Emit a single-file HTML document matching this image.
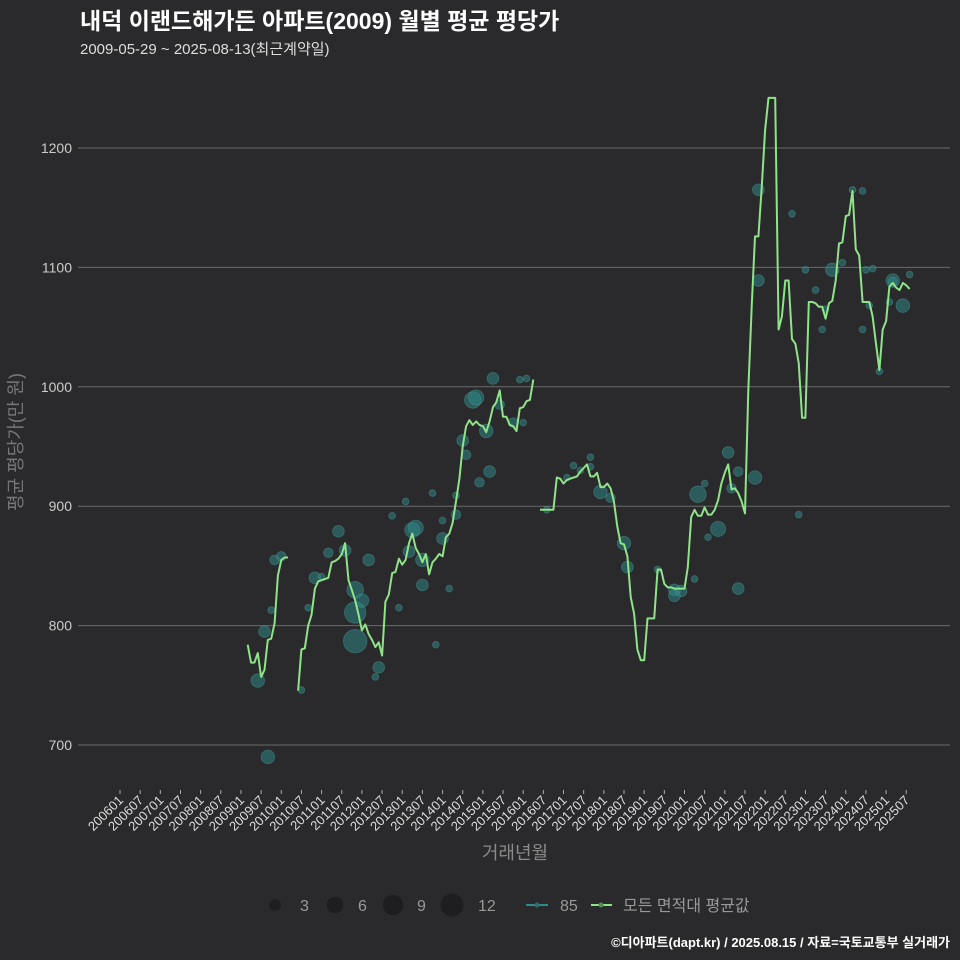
<!DOCTYPE html>
<html><head><meta charset="utf-8"><style>
body{margin:0;background:#2a2a2c;}
svg{display:block;font-family:"Liberation Sans","Noto Sans CJK KR",sans-serif;}
</style></head><body>
<svg id="chart" width="960" height="960" viewBox="0 0 960 960">
<rect x="0" y="0" width="960" height="960" fill="#2a2a2c"/>
<text x="80" y="29" font-size="23" font-weight="bold" fill="#ffffff">내덕 이랜드해가든 아파트(2009) 월별 평균 평당가</text>
<text x="80" y="54" font-size="15" fill="#dddddd">2009-05-29 ~ 2025-08-13(최근계약일)</text>
<g id="grid"></g>
<g id="bubbles"></g>
<g id="lines"></g>
<g id="xaxis"></g>
<text x="515" y="859" font-size="18" fill="#8a8a8a" text-anchor="middle">거래년월</text>
<text transform="translate(22,442) rotate(-90)" font-size="18" fill="#777777" text-anchor="middle">평균 평당가(만 원)</text>
<g>
<circle cx="275" cy="905" r="5.9" fill="#1e1e20"/>
<text x="300" y="911" font-size="16" fill="#999">3</text>
<circle cx="335" cy="905" r="8.3" fill="#1e1e20"/>
<text x="358" y="911" font-size="16" fill="#999">6</text>
<circle cx="393" cy="905" r="10.2" fill="#1e1e20"/>
<text x="417" y="911" font-size="16" fill="#999">9</text>
<circle cx="452" cy="905" r="11.5" fill="#1e1e20"/>
<text x="478" y="911" font-size="16" fill="#999">12</text>
<line x1="526" y1="905" x2="548" y2="905" stroke="#2a8c8c" stroke-width="2"/>
<circle cx="537" cy="905" r="2.5" fill="#2f6f6a"/>
<text x="560" y="911" font-size="16" fill="#999">85</text>
<line x1="591" y1="905" x2="612" y2="905" stroke="#8fe388" stroke-width="2"/>
<circle cx="601" cy="905" r="2.5" fill="#4f8f55"/>
<text x="623" y="911" font-size="16" fill="#999">모든 면적대 평균값</text>
</g>
<text x="950" y="947" font-size="13" font-weight="bold" fill="#ffffff" text-anchor="end">©디아파트(dapt.kr) / 2025.08.15 / 자료=국토교통부 실거래가</text>
</svg>
<script>
const yTicks=[700,800,900,1000,1100,1200];
const lineStartMonth=38;
const seg1=[784,769,769,777,757,763,788,789,802,842,855,857,857];
const seg2=[745.5,780,781,800,809,831,837,838,839,840,853,854,856,860,869,838,830,821,809,796,801,793,788,782,786,775,820,826,844,845,856,851,855,869,877,865,860,853,860,843,853,856,860,858,874,877,886,904,923,950,967,972,968,971,968,967,962,971,983,987,997,975,975,968,967,963,982,983,988,989,1006];
const seg3=[897,897,897,897,897,924,923,919,922,923,924,925,929,932,935,925,925,928,916,916,919,915,904,883,869,868,858,824,810,780,771,771,806,806,806,847,847,835,832,832,831,831,831,831,849,891,897,892,892,899,893,893,897,905,919,928,935,914,915,911,904,894,997,1067,1126,1126,1168,1215,1242,1242,1242,1048,1059,1089,1089,1040,1036,1020,974,974,1071,1071,1070,1067,1067,1057,1070,1072,1089,1120,1121,1143,1144,1164,1115,1110,1071,1071,1071,1059,1036,1014,1048,1055,1084,1087,1083,1081,1087,1085,1082];
const bubbleMonths=[41,43,44,45,46,48,54,56,58,60,62,65,67,70,70,70,72,74,77,76,81,85,83,86,87,88,90,90,94,93,96,96,98,100,100,102,103,105,106,107,109,110,111,113,117,119,121,120,127,133,135,137,140,140,143,146,150,151,160,165,167,165,171,172,174,175,178,181,184,184,182,190,189,190,200,204,207,210,212,215,209,218,221,222,224,223,221,226,230,230,233,229,235,202];
const bubbleValues=[754,795,690,813,855,858,746,815,840,841,861,879,863,830,811,787,821,855,765,757,892,904,815,862,880,882,855,834,784,911,888,873,831,893,909,955,943,989,991,920,963,929,1007,985,970,1006,1007,970,897,924,934,930,941,933,912,907,869,849,847,830,829,825,839,910,919,874,881,945,929,831,915,1089,924,1165,1145,1098,1081,1065,1098,1104,1048,1165,1164,1098,1099,1068,1048,1013,1088,1089,1068,1071,1094,893];
const bubbleCounts=[4,3,4,1,2,2,1,1,3,1,2,3,3,6,10,12,4,3,3,1,1,1,1,3,5,5,4,3,1,1,1,3,1,2,1,3,2,6,5,2,4,3,3,2,2,1,1,1,1,1,1,1,1,1,4,2,4,3,1,3,3,3,1,6,1,1,5,3,2,3,2,3,4,3,1,1,1,1,4,1,1,1,1,1,1,1,1,1,2,4,4,1,1,1];
const xTickLabels=[];
for(let y=2006;y<=2025;y++){xTickLabels.push(y+'01');xTickLabels.push(y+'07');}

const NS='http://www.w3.org/2000/svg';
const X0=120,MPX=3.36,Y700=745,YPX=1.194;
function xs(m){return X0+m*MPX;}
function ys(v){return Y700-(v-700)*YPX;}
function mk(tag,attrs,parent){const e=document.createElementNS(NS,tag);for(const k in attrs)e.setAttribute(k,attrs[k]);parent.appendChild(e);return e;}

const grid=document.getElementById('grid');
yTicks.forEach(t=>{
 const l=mk('line',{x1:78,x2:950,y1:ys(t),y2:ys(t),stroke:'#6a6a6a','stroke-width':1},grid);
 
 
 const tx=mk('text',{x:72,y:ys(t)+5,'font-size':14,fill:'#cccccc','text-anchor':'end'},grid);
 tx.textContent=t;
 
 
});

const xa=document.getElementById('xaxis');
xTickLabels.forEach((lab,i)=>{
 const x=xs(i*6);
 const tk=mk('line',{x1:x,x2:x,y1:790,y2:794,stroke:'#aaaaaa','stroke-width':1},xa);
 
 
 const tx=mk('text',{transform:`translate(${x+4},${801}) rotate(-45)`,'font-size':13,fill:'#dddddd','text-anchor':'end'},xa);
 tx.textContent=lab;
 
 
});

const bg=document.getElementById('bubbles');
bubbleMonths.forEach((m,i)=>{
 const c=mk('circle',{cx:xs(m),cy:ys(bubbleValues[i]),r:3.4*Math.sqrt(bubbleCounts[i]),fill:'rgba(45,140,140,0.5)',stroke:'rgba(90,180,175,0.35)','stroke-width':0.8},bg);
 
 
});

const lg=document.getElementById('lines');
function drawSeg(arr,start,name){
 const pts=arr.map((v,i)=>xs(start+i).toFixed(1)+','+ys(v).toFixed(1)).join(' ');
 const p=mk('polyline',{points:pts,fill:'none',stroke:'#8fe388','stroke-width':2,'stroke-linejoin':'round'},lg);
 
 
}
drawSeg(seg1,lineStartMonth,'avg-line-segment-1');
drawSeg(seg2,lineStartMonth+seg1.length+2,'avg-line-segment-2');
drawSeg(seg3,lineStartMonth+seg1.length+2+seg2.length+1,'avg-line-segment-3');
</script>
</body></html>
